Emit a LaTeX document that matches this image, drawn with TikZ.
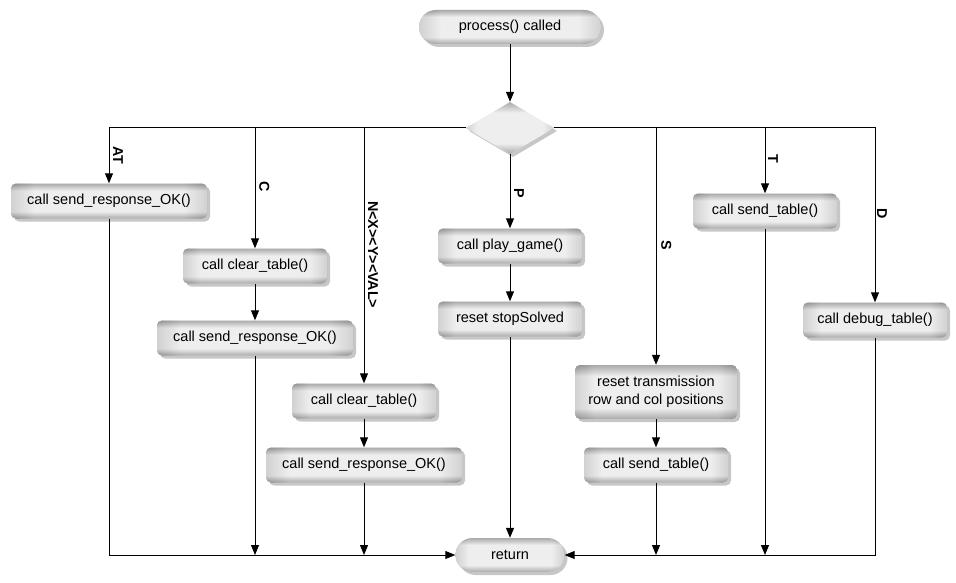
\documentclass[tikz,border=0pt]{standalone}
\usepackage{fontspec}
\setmainfont{Liberation Sans}
\usetikzlibrary{arrows.meta,shapes.geometric,shadows}
\definecolor{edgec}{HTML}{8E8E8E}
\definecolor{facec}{HTML}{EEEEEE}
\pgfdeclarehorizontalshading{pilh}{100bp}{color(0bp)=(edgec); color(25bp)=(edgec); color(31bp)=(facec); color(69bp)=(facec); color(75bp)=(edgec); color(100bp)=(edgec)}
\pgfdeclareverticalshading{pilv}{100bp}{color(0bp)=(edgec); color(25bp)=(edgec); color(35bp)=(facec); color(65bp)=(facec); color(75bp)=(edgec); color(100bp)=(edgec)}
\tikzset{
  pillow/.style={shading=pilh, postaction={shading=pilv, opacity=0.7},
    drop shadow={shadow xshift=3pt, shadow yshift=-3pt, fill=black, opacity=0.22}},
  stepbox/.style={pillow, rectangle, rounded corners=5pt, minimum width=144pt, minimum height=35pt,
    inner sep=0pt, align=center, font=\fontsize{14.5}{18}\selectfont},
  widebox/.style={stepbox, minimum width=196pt},
  pill/.style={pillow, rectangle, rounded corners=17pt, minimum height=34pt, inner sep=0pt,
    font=\fontsize{14.5}{18}\selectfont},
  decide/.style={pillow, diamond, minimum width=88pt, minimum height=52pt, inner sep=0pt},
  lab/.style={rotate=-90, anchor=south west, inner sep=0pt, font=\fontsize{14.3}{16}\selectfont\bfseries},
  conn/.style={line width=1pt, draw=black},
  arr/.style={conn, -{Triangle[length=10pt,width=8pt]}},
}
\begin{document}
\begin{tikzpicture}[x=1pt, y=-1pt]
\useasboundingbox (0,0) rectangle (956,583);
% nodes
\node[pill, minimum width=182pt] (start) at (510,27) {process() called};
\node[decide] (dia) at (510,128) {};
\node[pill, minimum width=109pt] (ret) at (510,555) {return};
\node[widebox] (bAT) at (109,201) {call send\_response\_OK()};
\node[stepbox] (bC1) at (255,266) {call clear\_table()};
\node[widebox] (bC2) at (255,338) {call send\_response\_OK()};
\node[stepbox] (bN1) at (364,401) {call clear\_table()};
\node[widebox] (bN2) at (364,465) {call send\_response\_OK()};
\node[stepbox] (bP1) at (510,246) {call play\_game()};
\node[stepbox] (bP2) at (510,319) {reset stopSolved};
\node[stepbox, minimum width=162pt, minimum height=54pt] (bS1) at (656,392) {reset transmission\\row and col positions};
\node[stepbox] (bS2) at (656,465) {call send\_table()};
\node[stepbox] (bT) at (765,211) {call send\_table()};
\node[stepbox] (bD) at (875,320) {call debug\_table()};
% labels
\node[lab] (lAT) at (113,146) {AT};
\node[lab] (lC) at (259,181) {C};
\node[lab] (lN) at (368,201) {N<X><Y><VAL>};
\node[lab] (lP) at (514,188) {P};
\node[lab] (lS) at (661,240) {S};
\node[lab] (lT) at (768,154) {T};
\node[lab] (lD) at (877,208) {D};
% connectors
\draw[arr] (start) -- (dia);
\draw[arr] (dia.west) -| (bAT);
\draw[arr] (dia.west) -| (bC1);
\draw[arr] (dia.west) -| (bN1);
\draw[arr] (dia) -- (bP1);
\draw[arr] (dia.east) -| (bS1);
\draw[arr] (dia.east) -| (bT);
\draw[arr] (dia.east) -| (bD);
\draw[arr] (bC1) -- (bC2);
\draw[arr] (bN1) -- (bN2);
\draw[arr] (bP1) -- (bP2);
\draw[arr] (bS1) -- (bS2);
\draw[arr] (bAT) |- (ret);
\draw[arr] (bD) |- (ret);
\draw[arr] (bP2) -- (ret);
\draw[arr] (bC2) -- (bC2 |- ret);
\draw[arr] (bN2) -- (bN2 |- ret);
\draw[arr] (bS2) -- (bS2 |- ret);
\draw[arr] (bT) -- (bT |- ret);
\end{tikzpicture}
\end{document}
